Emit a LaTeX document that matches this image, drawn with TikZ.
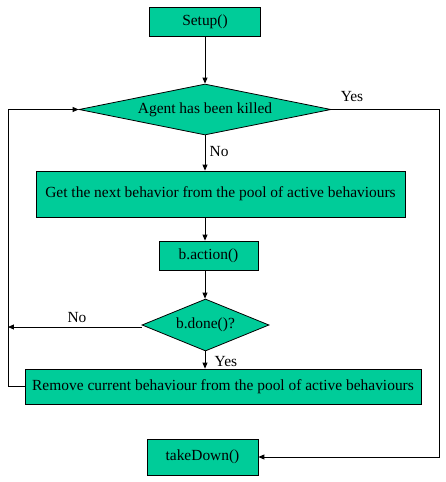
\documentclass[tikz,border=0pt]{standalone}
\usepackage{fontspec}
\setmainfont{Liberation Serif}
\usetikzlibrary{shapes.geometric,arrows.meta}
\definecolor{flowgreen}{RGB}{0,204,153}
\begin{document}
\begin{tikzpicture}[x=1bp, y=-1bp, >={Triangle[length=6pt,width=5pt]}, line width=0.8pt,
	every node/.style={font=\fontsize{15.5}{18}\selectfont},
	stepbox/.style={draw, fill=flowgreen, inner sep=0pt},
	testbox/.style={draw, fill=flowgreen, diamond, inner sep=0pt}]
	\useasboundingbox (0,0) rectangle (446,482);
	
	% 方框与判断
	\node[stepbox, minimum width=111bp, minimum height=29bp] (setup) at (205,21.5) {Setup()};
	\node[testbox, aspect=5, minimum width=252bp, minimum height=51bp] (killed) at (205,109.5) {Agent has been killed};
	\node[stepbox, minimum width=369bp, minimum height=46bp] (next) at (220.5,194) {Get the next behavior from the pool of active behaviours};
	\node[stepbox, minimum width=99bp, minimum height=29bp] (action) at (208.5,255.5) {b.action()};
	\node[testbox, aspect=2.4, minimum width=127bp, minimum height=52bp] (done) at (205.5,325) {b.done()?};
	\node[stepbox, minimum width=396bp, minimum height=35bp] (remove) at (223,386.5) {Remove current behaviour from the pool of active behaviours};
	\node[stepbox, minimum width=111bp, minimum height=36bp] (takedown) at (202.5,457) {takeDown()};
	
	% 回路的拐点
	\coordinate (rt) at (439,109.5);
	\coordinate (rb) at (439,457);
	\coordinate (lt) at (8,109.5);
	\coordinate (lb) at (8,386.5);
	\coordinate (ln) at (8,327);
	
	% 连线
	\draw[->] (setup) -- (setup |- killed.north);
	\draw[->] (killed.south) -- (killed.south |- next.north) node[pos=0.45, right, xshift=1bp] {No};
	\draw[->] (next.south -| killed.south) -- (killed.south |- action.north);
	\draw[->] (killed.south |- action.south) -- (done.north -| killed.south);
	\draw[->] (done.south -| killed.south) -- (killed.south |- remove.north) node[midway, right, xshift=6bp, yshift=-2bp] {Yes};
	\draw[->] (killed.east) -- (rt) -- (rb) -- (takedown.east);
	\draw[->] (remove.west) -- (lb) -- (lt) -- (killed.west);
	\draw[->] (done.west |- ln) -- (ln);
	
	\node at (352,97) {Yes};
	\node at (77,318) {No};
\end{tikzpicture}
\end{document}
